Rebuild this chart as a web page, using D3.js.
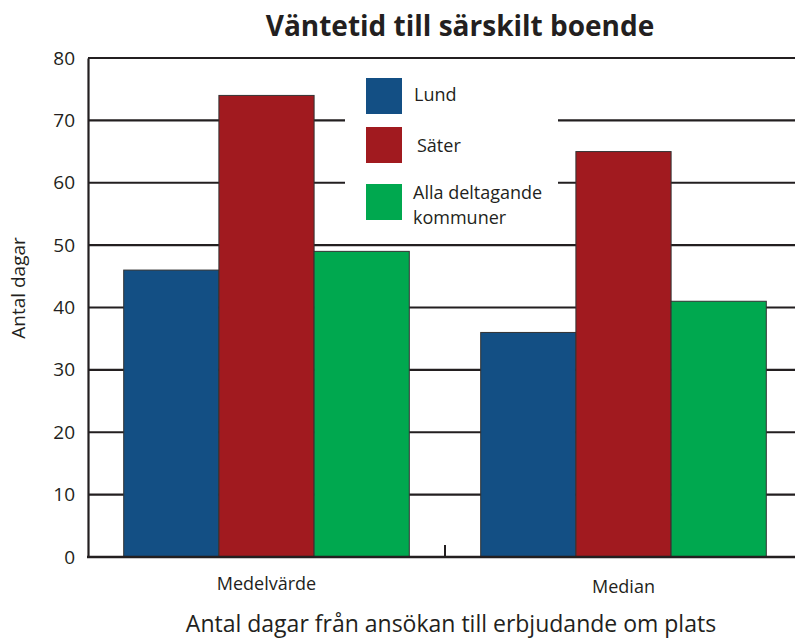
<!DOCTYPE html>
<html>
<head>
<meta charset="utf-8">
<script src="https://cdn.jsdelivr.net/npm/d3@7"></script>
<style>
  body { margin: 0; background: #fff; }
  svg { display: block; font-family: 'Open Sans', Lato, sans-serif; }
</style>
</head>
<body>
<div id="container"></div>
<script>
const categories = ['Medelvärde', 'Median'];
const seriesNames = ['Lund', 'Säter', 'Alla deltagande kommuner'];
const lund = [46, 36];
const sater = [74, 65];
const alla = [49, 41];
const yTicks = [0, 10, 20, 30, 40, 50, 60, 70, 80];
const colors = ['#134f84', '#a11a1f', '#00a84f'];

const width = 795, height = 640;
const margin = { top: 58, right: -7, bottom: 83, left: 88 };

const svg = d3.select('#container').append('svg')
  .attr('width', width)
  .attr('height', height);

const x0 = d3.scaleBand()
  .domain(categories)
  .range([margin.left, width - margin.right])
  .paddingInner(0.2)
  .paddingOuter(0.1);

const x1 = d3.scaleBand()
  .domain(d3.range(seriesNames.length))
  .range([0, x0.bandwidth()]);

const y = d3.scaleLinear()
  .domain([0, 80])
  .range([height - margin.bottom, margin.top]);

// grid lines
svg.append('g')
  .selectAll('line')
  .data(yTicks)
  .enter()
  .append('line')
  .attr('x1', margin.left)
  .attr('x2', width)
  .attr('y1', (d) => y(d))
  .attr('y2', (d) => y(d))
  .attr('stroke', '#231f20')
  .attr('stroke-width', 2.2);

// white box behind legend hides the gridlines there
svg.append('rect')
  .attr('x', 345)
  .attr('y', 66)
  .attr('width', 213)
  .attr('height', 168)
  .attr('fill', '#fff');

// y axis
const yAxis = svg.append('g')
  .attr('transform', `translate(${margin.left},0)`)
  .call(d3.axisLeft(y).tickValues(yTicks).tickSize(0).tickPadding(13));
yAxis.select('.domain').attr('stroke', '#231f20').attr('stroke-width', 2.2);
yAxis.selectAll('text')
  .attr('font-family', "'Open Sans', sans-serif")
  .attr('font-size', 19)
  .attr('fill', '#231f20');

// middle tick on x axis
svg.append('line')
  .attr('x1', (x0('Medelvärde') + x0.bandwidth() + x0('Median')) / 2)
  .attr('x2', (x0('Medelvärde') + x0.bandwidth() + x0('Median')) / 2)
  .attr('y1', y(0))
  .attr('y2', y(0) - 12)
  .attr('stroke', '#231f20')
  .attr('stroke-width', 2);

// bars
const rows = categories.map((c, i) => ({ cat: c, values: [lund[i], sater[i], alla[i]] }));
svg.append('g')
  .selectAll('g')
  .data(rows)
  .enter()
  .append('g')
  .attr('transform', (d) => `translate(${x0(d.cat)},0)`)
  .selectAll('rect')
  .data((d) => d.values.map((v, i) => ({ v, i })))
  .enter()
  .append('rect')
  .attr('x', (d) => x1(d.i))
  .attr('width', x1.bandwidth())
  .attr('y', (d) => y(d.v))
  .attr('height', (d) => y(0) - y(d.v))
  .attr('fill', (d) => colors[d.i])
  .attr('stroke', '#333')
  .attr('stroke-width', 1);

// x axis baseline
svg.append('line')
  .attr('x1', margin.left - 1)
  .attr('x2', width)
  .attr('y1', y(0))
  .attr('y2', y(0))
  .attr('stroke', '#231f20')
  .attr('stroke-width', 2.5);

// category labels
svg.append('g')
  .selectAll('text')
  .data(categories)
  .enter()
  .append('text')
  .attr('x', (d) => x0(d) + x0.bandwidth() / 2)
  .attr('y', (d, i) => i === 0 ? 590 : 593)
  .attr('text-anchor', 'middle')
  .attr('font-size', 18)
  .attr('fill', '#231f20')
  .text((d) => d);

// legend
const legendY = [78, 127, 184];
const legend = svg.append('g');
legend.selectAll('rect')
  .data(seriesNames)
  .enter()
  .append('rect')
  .attr('x', 366)
  .attr('y', (d, i) => legendY[i])
  .attr('width', 36)
  .attr('height', 36)
  .attr('fill', (d, i) => colors[i]);
legend.append('text').attr('x', 414).attr('y', 101).text('Lund');
legend.append('text').attr('x', 417).attr('y', 152).text('Säter');
legend.append('text').attr('x', 413).attr('y', 199).text('Alla deltagande');
legend.append('text').attr('x', 413).attr('y', 224).text('kommuner');
legend.selectAll('text')
  .attr('font-size', 18)
  .attr('fill', '#231f20');

// titles
svg.append('text')
  .attr('x', 460)
  .attr('y', 36)
  .attr('text-anchor', 'middle')
  .attr('font-size', 28)
  .attr('font-weight', 'bold')
  .attr('fill', '#231f20')
  .text('Väntetid till särskilt boende');

svg.append('text')
  .attr('transform', 'translate(25,288) rotate(-90)')
  .attr('text-anchor', 'middle')
  .attr('font-size', 19)
  .attr('fill', '#231f20')
  .text('Antal dagar');

svg.append('text')
  .attr('x', 451)
  .attr('y', 632)
  .attr('text-anchor', 'middle')
  .attr('font-size', 23)
  .attr('fill', '#231f20')
  .text('Antal dagar från ansökan till erbjudande om plats');
</script>
</body>
</html>
